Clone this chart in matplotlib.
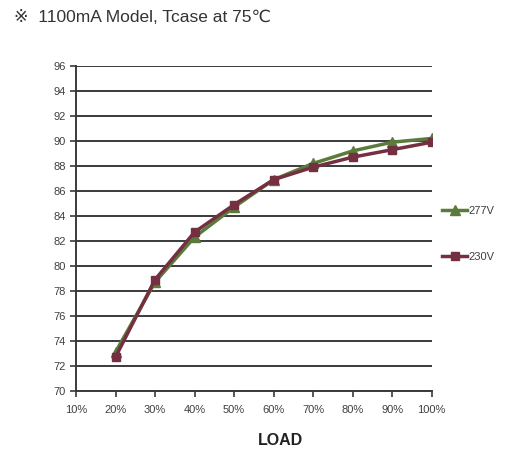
import matplotlib
matplotlib.use("Agg")
import matplotlib.pyplot as plt

load = [20, 30, 40, 50, 60, 70, 80, 90, 100]
eff_277 = [73.1, 78.7, 82.3, 84.7, 86.9, 88.2, 89.2, 89.9, 90.2]
eff_230 = [72.7, 78.9, 82.7, 84.9, 86.9, 87.9, 88.7, 89.3, 89.9]
xticks = [10, 20, 30, 40, 50, 60, 70, 80, 90, 100]
yticks = list(range(70, 97, 2))

fam = ['Liberation Sans Narrow', 'Liberation Sans', 'DejaVu Sans', 'Noto Sans CJK SC']
plt.rcParams['font.family'] = fam

fig = plt.figure(figsize=(5.05, 4.57), dpi=100)
ax = fig.add_axes([0.1505, 0.145, 0.7045, 0.7106])

green = '#5b7b3c'
red = '#743040'
ax.plot(load, eff_277, color=green, lw=2.5, marker='^', ms=7, zorder=3, label='277V')
ax.plot(load, eff_230, color=red, lw=2.5, marker='s', ms=6, zorder=4, label='230V')

ax.set_xlim(10, 100)
ax.set_ylim(70, 96)
ax.set_xticks(xticks)
ax.set_xticklabels([f"{v}%" for v in xticks])
ax.set_yticks(yticks)
ax.yaxis.grid(True, color='#3a3a3a', lw=1.4)
ax.set_axisbelow(True)
for s in ['top', 'right']:
    ax.spines[s].set_visible(False)
for s in ['left', 'bottom']:
    ax.spines[s].set_color('#3a3a3a')
    ax.spines[s].set_linewidth(1.4)
ax.tick_params(axis='both', colors='#3a3a3a', labelcolor='#404040', labelsize=8, length=4, width=1.2)
ax.tick_params(axis='x', pad=6)

leg = ax.legend(loc='center left', bbox_to_anchor=(1.0, 0.483), frameon=False,
                handlelength=2.3, handletextpad=0.1, labelspacing=3.3, fontsize=8,
                labelcolor='#404040')

fig.text(0.028, 0.962, "※  1100mA Model, Tcase at 75℃", fontsize=12.5, color='#333333',
         va='center', ha='left', family=fam)
fig.text(0.556, 0.037, "LOAD", fontsize=11.5, fontweight='bold', color='#222222',
         ha='center', va='center', family=fam)

fig.savefig("out.png", dpi=100)
